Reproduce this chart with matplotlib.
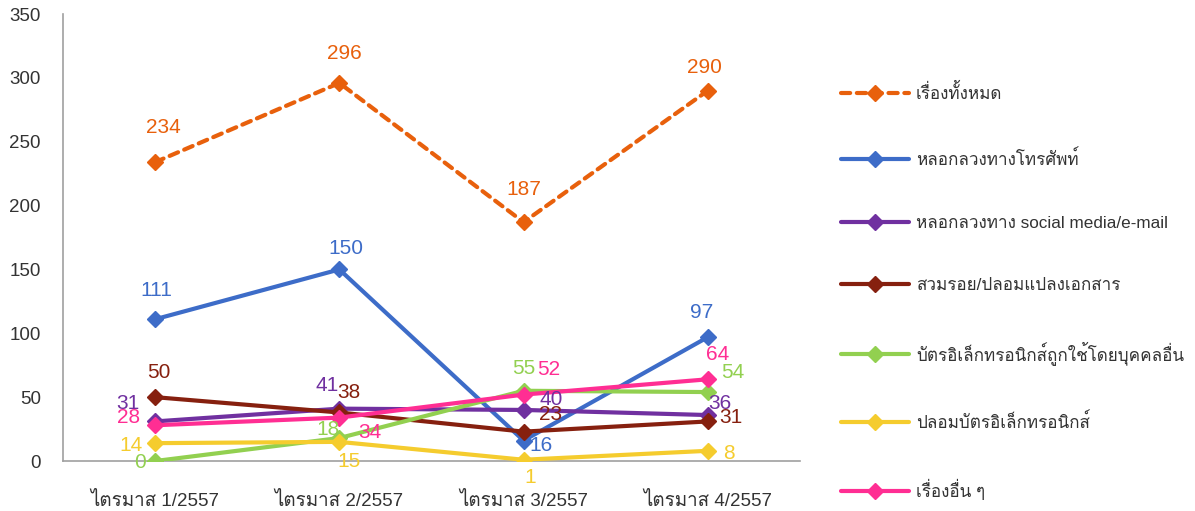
import matplotlib
matplotlib.use("Agg")
import matplotlib.pyplot as plt
from matplotlib import font_manager
from matplotlib.ft2font import FT2Font

# หาฟอนต์ที่มีอักษรไทย
thai_font = None
for f in font_manager.fontManager.ttflist:
    try:
        if 0x0E01 in FT2Font(f.fname).get_charmap():
            thai_font = f.name
            break
    except Exception:
        pass
fams = ['Liberation Sans']
if thai_font:
    fams.append(thai_font)
fams.append('DejaVu Sans')
plt.rcParams['font.family'] = fams

quarters = ['ไตรมาส 1/2557', 'ไตรมาส 2/2557', 'ไตรมาส 3/2557', 'ไตรมาส 4/2557']
names = ['เรื่องทั้งหมด', 'หลอกลวงทางโทรศัพท์', 'หลอกลวงทาง social media/e-mail',
         'สวมรอย/ปลอมแปลงเอกสาร', 'บัตรอิเล็กทรอนิกส์ถูกใช้โดยบุคคลอื่น',
         'ปลอมบัตรอิเล็กทรอนิกส์', 'เรื่องอื่น ๆ']
total = [234, 296, 187, 290]
phone = [111, 150, 16, 97]
social = [31, 41, 40, 36]
forge = [50, 38, 23, 31]
card_used = [0, 18, 55, 54]
fake_card = [14, 15, 1, 8]
other = [28, 34, 52, 64]

series = [total, phone, social, forge, card_used, fake_card, other]
colors = ['#E8600C', '#3D6CC8', '#7030A0', '#86200F', '#92D050', '#F5CC2E', '#FF2E93']

# ตำแหน่งป้ายตัวเลข (offset pixels)
offs = [
    [(8, 35), (5, 29), (0, 33), (-3, 23)],
    [(1, 29), (7, 21), (17, -5), (-6, 25)],
    [(-27, 18), (-12, 23), (28, 10), (12, 12)],
    [(4, 25), (10, 20), (27, 17), (23, 4)],
    [(-15, -1), (-11, 9), (0, 22), (25, 20)],
    [(-24, -2), (10, -20), (7, -18), (21, -3)],
    [(-27, 8), (31, -15), (25, 25), (10, 25)],
]

fig = plt.figure(figsize=(11.95, 5.11), dpi=100)
ax = fig.add_axes([0.0527, 0.0978, 0.6167, 0.8748])
x = list(range(len(quarters)))
handles = []
for i, (vals, col) in enumerate(zip(series, colors)):
    ls = (0, (2.2, 1.6)) if i == 0 else '-'
    h, = ax.plot(x, vals, color=col, lw=3, ls=ls, marker='D', markersize=8,
                 markeredgecolor=col, label=names[i], zorder=3, solid_capstyle='round',
                 dash_capstyle='round')
    handles.append(h)
    for j, v in enumerate(vals):
        ax.annotate(str(v), (x[j], v), xytext=offs[i][j], textcoords='offset pixels',
                    ha='center', va='center', color=col, fontsize=15, zorder=4)

ax.set_xlim(-0.5, 3.5)
ax.set_ylim(0, 350)
ax.set_yticks(range(0, 351, 50))
ax.set_xticks(x)
ax.set_xticklabels(quarters, fontsize=13.5)
ax.tick_params(axis='both', length=0, labelsize=13.5, colors='#333333')
ax.tick_params(axis='x', pad=22)
ax.tick_params(axis='y', pad=16)
for s in ['top', 'right']:
    ax.spines[s].set_visible(False)
for s in ['left', 'bottom']:
    ax.spines[s].set_color('#A0A0A0')
    ax.spines[s].set_linewidth(1.2)

fig.legend(handles=handles, loc='upper left', bbox_to_anchor=(0.698, 0.851),
           frameon=False, fontsize=12.3, handlelength=4.0, labelspacing=2.78,
           handletextpad=0.4, borderaxespad=0, labelcolor='#333333')

fig.savefig('out.png', dpi=100)
